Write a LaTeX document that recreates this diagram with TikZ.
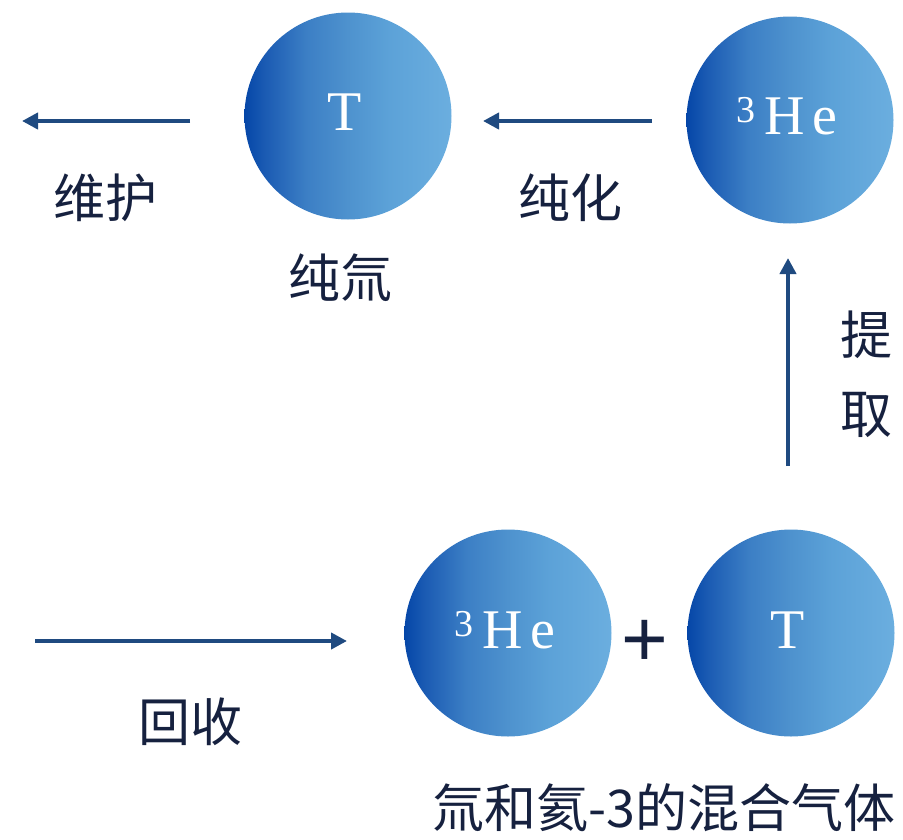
\documentclass[tikz,border=0pt]{standalone}
\usepackage{fontspec}
\setmainfont{Liberation Serif}
\newfontfamily\cjk{Noto Sans CJK SC}
\newfontfamily\plusfont{Liberation Sans}
\usetikzlibrary{arrows.meta}
\definecolor{arrowblue}{HTML}{1F4A80}
\definecolor{txt}{HTML}{16213F}
\definecolor{cdark}{HTML}{0546A8}
\definecolor{cA}{HTML}{1B5BB3}
\definecolor{cB}{HTML}{3C7FC5}
\definecolor{cmid}{HTML}{4E92CE}
\definecolor{cC}{HTML}{5CA2D8}
\definecolor{clight}{HTML}{6BAEDF}
\pgfdeclarehorizontalshading{ballshade}{100bp}{color(0bp)=(cdark); color(25bp)=(cdark); color(30bp)=(cA); color(40bp)=(cB); color(50bp)=(cmid); color(60bp)=(cC); color(75bp)=(clight); color(100bp)=(clight)}
\newcommand{\heThree}{\raisebox{12pt}{\fontsize{38}{38}\selectfont 3}\hspace{9pt}H\hspace{8pt}e}
\begin{document}
\begin{tikzpicture}[x=1pt,y=-1pt,
  ball/.style={circle, minimum size=207pt, inner sep=0pt, shading=ballshade, shading angle=0, draw=none},
  sym/.style={text=white, anchor=base, inner sep=0pt, font=\fontsize{56}{56}\selectfont},
  lbl/.style={text=txt, inner sep=0pt, font=\cjk\fontsize{52}{52}\selectfont},
  flow/.style={draw=arrowblue, line width=4pt, -{Triangle[length=16pt,width=16pt]}}
]
\useasboundingbox (0,0) rectangle (903,839);
% circles
\node[ball] (tT) at (348,116) {};
\node[ball] (tHe) at (790,120) {};
\node[ball] (bHe) at (508,633) {};
\node[ball] (bT) at (791,633) {};
% symbols
\node[sym] (tTs) at (345,130) {T};
\node[sym] (tHes) at (787,134) {\heThree};
\node[sym] (bHes) at (505,648) {\heThree};
\node[sym] (bTs) at (788,648) {T};
% plus
\node[text=txt, inner sep=0pt, anchor=base, font=\plusfont\fontsize{80}{80}\selectfont] (plus) at (645,666) {+};
% labels
\node[lbl] (weihu) at (105,198) {维护};
\node[lbl] (chunhua) at (570,198) {纯化};
\node[lbl] (chunchuan) at (340,278) {纯氚};
\node[lbl] (ti) at (866,335) {提};
\node[lbl] (qu) at (866,415) {取};
\node[lbl] (huishou) at (190,722) {回收};
\node[lbl] (mix) at (664,808) {氚和氦-3的混合气体};
% arrow ends
\coordinate (a1s) at (190,121);
\coordinate (a1e) at (22,121);
\coordinate (a2s) at (652,121);
\coordinate (a2e) at (483,121);
\coordinate (a3s) at (788,466);
\coordinate (a3e) at (788,258);
\coordinate (a4s) at (35,641);
\coordinate (a4e) at (347,641);
\draw[flow] (a1s) -- (a1e);
\draw[flow] (a2s) -- (a2e);
\draw[flow] (a3s) -- (a3e);
\draw[flow] (a4s) -- (a4e);
\end{tikzpicture}
\end{document}
